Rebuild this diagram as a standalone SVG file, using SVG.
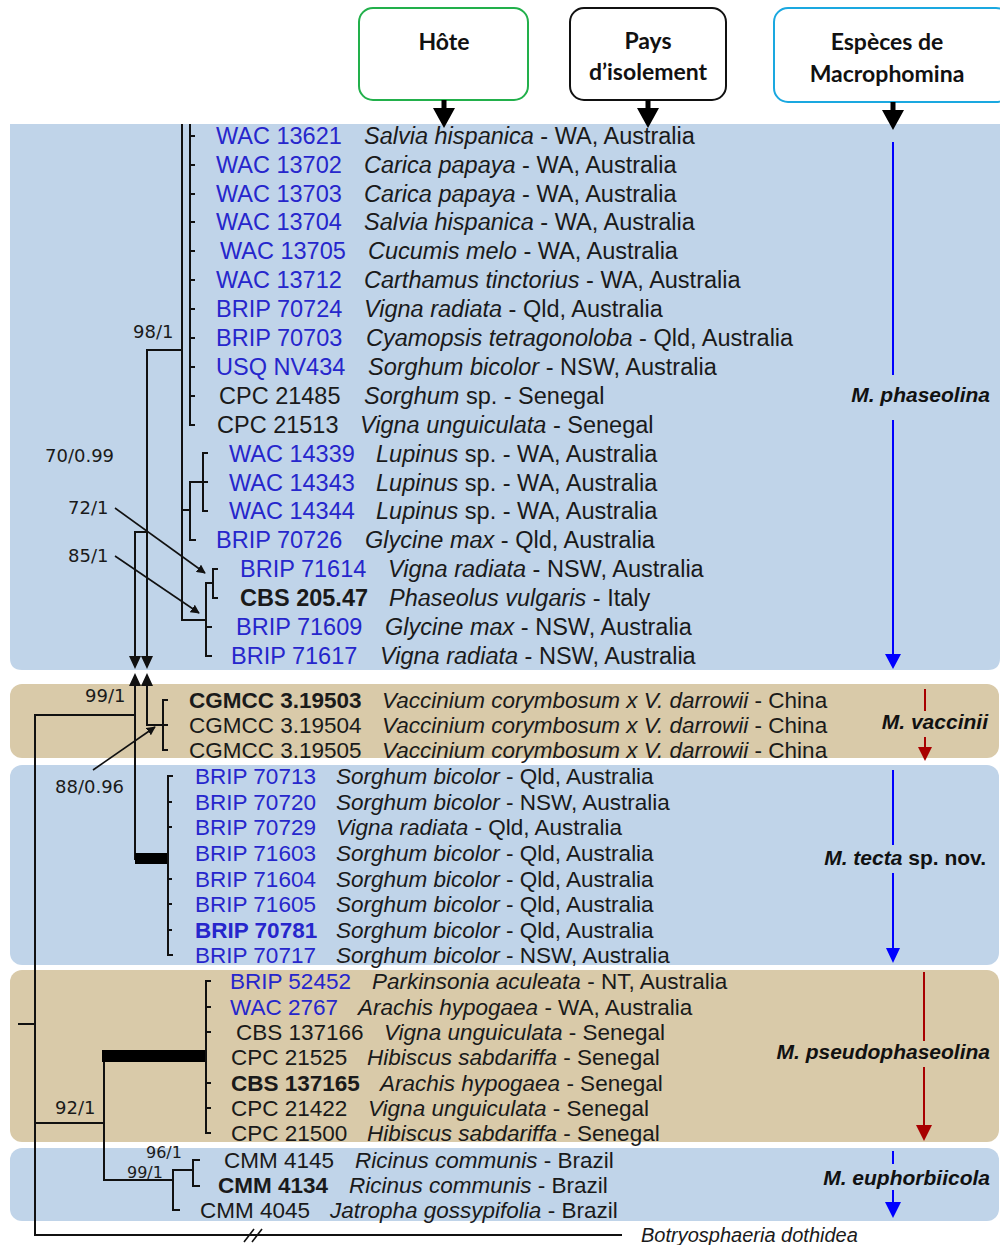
<svg xmlns="http://www.w3.org/2000/svg" width="1000" height="1245" viewBox="0 0 1000 1245">
<defs>
<style>
.bg{fill:#fff}
.pb{fill:#c0d4e9}
.pt{fill:#d9caa9}
.hb{fill:#fff;stroke-width:2}
.ht{font-family:Lato,"Open Sans",sans-serif;font-weight:bold;font-size:23px;fill:#111;text-anchor:middle}
.r1{font-family:"Liberation Sans",Arial,sans-serif;font-size:23.5px;fill:#1a1a1a}
.r2{font-family:"Liberation Sans",Arial,sans-serif;font-size:22.5px;fill:#1a1a1a}
.b{fill:#2626cc}
.k{fill:#1a1a1a}
.bd{font-weight:bold}
.i{font-style:italic}
.tr{fill:none;stroke:#111;stroke-width:2}
.sup{font-family:"DejaVu Sans",Verdana,sans-serif;font-size:18px;fill:#1a1a1a}
.sm{font-size:16px}
.sp{font-family:"Liberation Sans",Arial,sans-serif;font-size:21px;font-weight:bold;font-style:italic;fill:#111;text-anchor:end}
.bl{stroke:#0000ff;stroke-width:2;fill:none}
.rd{stroke:#a80000;stroke-width:2;fill:none}
.ar{stroke:#111;stroke-width:1.6;fill:none}
</style>
<marker id="ah" viewBox="0 0 10 10" refX="9" refY="5" markerWidth="9" markerHeight="9" markerUnits="userSpaceOnUse" orient="auto"><path d="M0,0 L10,5 L0,10 Z" fill="#111"/></marker>
</defs>
<rect class="bg" x="0" y="0" width="1000" height="1245"/>

<g id="panels">
<path class="pb" d="M10,124 H1000 V658 Q1000,670 988,670 H22 Q10,670 10,658 Z"/>
<rect class="pt" x="10" y="684" width="989" height="74" rx="12"/>
<rect class="pb" x="10" y="765" width="989" height="200" rx="12"/>
<rect class="pt" x="10" y="970" width="989" height="172" rx="12"/>
<rect class="pb" x="10" y="1148" width="989" height="73" rx="12"/>
</g>

<g id="header-hote">
<rect class="hb" x="359" y="8" width="169" height="92" rx="14" stroke="#22b04b"/>
<text class="ht" x="444" y="50">Hôte</text>
<path d="M441.5,100 H446.5 V108 H455 L444,128 L433,108 H441.5 Z" fill="#000"/>
</g>
<g id="header-pays">
<rect class="hb" x="570" y="8" width="156" height="92" rx="14" stroke="#111"/>
<text class="ht" x="648" y="49">Pays</text>
<text class="ht" x="648" y="80">d’isolement</text>
<path d="M645.5,100 H650.5 V108 H659 L648,128 L637,108 H645.5 Z" fill="#000"/>
</g>
<g id="header-especes">
<rect class="hb" x="774" y="8" width="236" height="94" rx="14" stroke="#1aa8e0"/>
<text class="ht" x="887" y="50">Espèces de</text>
<text class="ht" x="887" y="82">Macrophomina</text>
<path d="M890.5,102 H895.5 V110 H904 L893,130 L882,110 H890.5 Z" fill="#000"/>
</g>

<g id="connectors">
<path class="tr" d="M190,124 V425 H195"/>
<path class="tr" d="M190,136 H195 M190,165 H195 M190,194 H195 M190,222 H195 M190,251 H195 M190,280 H195 M190,309 H195 M190,338 H195 M190,367 H195 M190,396 H195"/>
<path class="tr" d="M182,124 V620 H206" stroke-width="2.6"/>
<path class="tr" d="M182,510 H190"/>
<path class="tr" d="M196,540 H190 V482 H203"/>
<path class="tr" d="M208,453 H203 V511 H208 M203,482 H208"/>
<path class="tr" d="M212,656 H206 V583 H213 M206,627 H212"/>
<path class="tr" d="M218,569 H213 V598 H218"/>
<path class="tr" d="M182,350 H147 V658"/>
<path class="tr" d="M147,532 H135 V658"/>
<path d="M141,656 L153,656 L147,669 Z M129,656 L141,656 L135,669 Z" fill="#111"/>
<path d="M141,686 L153,686 L147,673 Z M129,686 L141,686 L135,673 Z" fill="#111"/>
<path class="tr" d="M147,685 V725 H163"/>
<path class="tr" d="M168,700 H163 V750 H168 M163,725 H168"/>
<path class="tr" d="M135,685 V860"/>
<path class="tr" d="M135,715 H35 V1235 H622"/>
<path class="tr" d="M18,1024 H35"/>
<rect x="135" y="853" width="33" height="11" fill="#000"/>
<path class="tr" d="M173,776 H168 V955 H173 M168,802 H172 M168,827 H172 M168,879 H172 M168,904 H172 M168,930 H172"/>
<path class="tr" d="M35,1123 H104 V1180 H173"/>
<path class="tr" d="M104,1123 V1056"/>
<rect x="102" y="1050" width="104" height="12" fill="#000"/>
<path class="tr" d="M211,981 H206 V1133 H211 M206,1007 H211 M206,1032 H211 M206,1083 H211 M206,1108 H211"/>
<path class="tr" d="M180,1210 H173 V1170 H193"/>
<path class="tr" d="M200,1160 H193 V1186 H200"/>
<path d="M244,1242 L254,1229 M252,1242 L262,1229" stroke="#111" stroke-width="1.6"/>
<path class="ar" d="M115,508 L205,573" marker-end="url(#ah)"/>
<path class="ar" d="M115,556 L199,613" marker-end="url(#ah)"/>
<path class="ar" d="M93,770 L155,727" marker-end="url(#ah)"/>
</g>

<g id="support-labels">
<text class="sup" x="133" y="338">98/1</text>
<text class="sup" x="45" y="462">70/0.99</text>
<text class="sup" x="68" y="514">72/1</text>
<text class="sup" x="68" y="562">85/1</text>
<text class="sup" x="85" y="702">99/1</text>
<text class="sup" x="55" y="793">88/0.96</text>
<text class="sup" x="55" y="1114">92/1</text>
<text class="sup sm" x="146" y="1158">96/1</text>
<text class="sup sm" x="127" y="1178">99/1</text>
</g>

<g id="phaseolina-leaves">
<g id="l1"><text class="r1 b" x="216" y="144">WAC 13621</text><text class="r1" x="364" y="144"><tspan class="i">Salvia hispanica</tspan> - WA, Australia</text></g>
<g id="l2"><text class="r1 b" x="216" y="173">WAC 13702</text><text class="r1" x="364" y="173"><tspan class="i">Carica papaya</tspan> - WA, Australia</text></g>
<g id="l3"><text class="r1 b" x="216" y="202">WAC 13703</text><text class="r1" x="364" y="202"><tspan class="i">Carica papaya</tspan> - WA, Australia</text></g>
<g id="l4"><text class="r1 b" x="216" y="230">WAC 13704</text><text class="r1" x="364" y="230"><tspan class="i">Salvia hispanica</tspan> - WA, Australia</text></g>
<g id="l5"><text class="r1 b" x="220" y="259">WAC 13705</text><text class="r1" x="368" y="259"><tspan class="i">Cucumis melo</tspan> - WA, Australia</text></g>
<g id="l6"><text class="r1 b" x="216" y="288">WAC 13712</text><text class="r1" x="364" y="288"><tspan class="i">Carthamus tinctorius</tspan> - WA, Australia</text></g>
<g id="l7"><text class="r1 b" x="216" y="317">BRIP 70724</text><text class="r1" x="364" y="317"><tspan class="i">Vigna radiata</tspan> - Qld, Australia</text></g>
<g id="l8"><text class="r1 b" x="216" y="346">BRIP 70703</text><text class="r1" x="366" y="346"><tspan class="i">Cyamopsis tetragonoloba</tspan> - Qld, Australia</text></g>
<g id="l9"><text class="r1 b" x="216" y="375">USQ NV434</text><text class="r1" x="368" y="375"><tspan class="i">Sorghum bicolor</tspan> - NSW, Australia</text></g>
<g id="l10"><text class="r1" x="219" y="404">CPC 21485</text><text class="r1" x="364" y="404"><tspan class="i">Sorghum</tspan> sp. - Senegal</text></g>
<g id="l11"><text class="r1" x="217" y="433">CPC 21513</text><text class="r1" x="360" y="433"><tspan class="i">Vigna unguiculata</tspan> - Senegal</text></g>
<g id="l12"><text class="r1 b" x="229" y="462">WAC 14339</text><text class="r1" x="376" y="462"><tspan class="i">Lupinus</tspan> sp. - WA, Australia</text></g>
<g id="l13"><text class="r1 b" x="229" y="491">WAC 14343</text><text class="r1" x="376" y="491"><tspan class="i">Lupinus</tspan> sp. - WA, Australia</text></g>
<g id="l14"><text class="r1 b" x="229" y="519">WAC 14344</text><text class="r1" x="376" y="519"><tspan class="i">Lupinus</tspan> sp. - WA, Australia</text></g>
<g id="l15"><text class="r1 b" x="216" y="548">BRIP 70726</text><text class="r1" x="365" y="548"><tspan class="i">Glycine max</tspan> - Qld, Australia</text></g>
<g id="l16"><text class="r1 b" x="240" y="577">BRIP 71614</text><text class="r1" x="388" y="577"><tspan class="i">Vigna radiata</tspan> - NSW, Australia</text></g>
<g id="l17"><text class="r1 bd" x="240" y="606">CBS 205.47</text><text class="r1" x="389" y="606"><tspan class="i">Phaseolus vulgaris</tspan> - Italy</text></g>
<g id="l18"><text class="r1 b" x="236" y="635">BRIP 71609</text><text class="r1" x="385" y="635"><tspan class="i">Glycine max</tspan> - NSW, Australia</text></g>
<g id="l19"><text class="r1 b" x="231" y="664">BRIP 71617</text><text class="r1" x="380" y="664"><tspan class="i">Vigna radiata</tspan> - NSW, Australia</text></g>
</g>

<g id="vaccinii-leaves">
<g id="v1"><text class="r2 bd" x="189" y="708">CGMCC 3.19503</text><text class="r2" x="382" y="708"><tspan class="i">Vaccinium corymbosum x V. darrowii</tspan> - China</text></g>
<g id="v2"><text class="r2" x="189" y="733">CGMCC 3.19504</text><text class="r2" x="382" y="733"><tspan class="i">Vaccinium corymbosum x V. darrowii</tspan> - China</text></g>
<g id="v3"><text class="r2" x="189" y="758">CGMCC 3.19505</text><text class="r2" x="382" y="758"><tspan class="i">Vaccinium corymbosum x V. darrowii</tspan> - China</text></g>
</g>

<g id="tecta-leaves">
<g id="t1"><text class="r2 b" x="195" y="784">BRIP 70713</text><text class="r2" x="336" y="784"><tspan class="i">Sorghum bicolor</tspan> - Qld, Australia</text></g>
<g id="t2"><text class="r2 b" x="195" y="810">BRIP 70720</text><text class="r2" x="336" y="810"><tspan class="i">Sorghum bicolor</tspan> - NSW, Australia</text></g>
<g id="t3"><text class="r2 b" x="195" y="835">BRIP 70729</text><text class="r2" x="336" y="835"><tspan class="i">Vigna radiata</tspan> - Qld, Australia</text></g>
<g id="t4"><text class="r2 b" x="195" y="861">BRIP 71603</text><text class="r2" x="336" y="861"><tspan class="i">Sorghum bicolor</tspan> - Qld, Australia</text></g>
<g id="t5"><text class="r2 b" x="195" y="887">BRIP 71604</text><text class="r2" x="336" y="887"><tspan class="i">Sorghum bicolor</tspan> - Qld, Australia</text></g>
<g id="t6"><text class="r2 b" x="195" y="912">BRIP 71605</text><text class="r2" x="336" y="912"><tspan class="i">Sorghum bicolor</tspan> - Qld, Australia</text></g>
<g id="t7"><text class="r2 b bd" x="195" y="938">BRIP 70781</text><text class="r2" x="336" y="938"><tspan class="i">Sorghum bicolor</tspan> - Qld, Australia</text></g>
<g id="t8"><text class="r2 b" x="195" y="963">BRIP 70717</text><text class="r2" x="336" y="963"><tspan class="i">Sorghum bicolor</tspan> - NSW, Australia</text></g>
</g>

<g id="pseudophaseolina-leaves">
<g id="s1"><text class="r2 b" x="230" y="989">BRIP 52452</text><text class="r2" x="372" y="989"><tspan class="i">Parkinsonia aculeata</tspan> - NT, Australia</text></g>
<g id="s2"><text class="r2 b" x="230" y="1015">WAC 2767</text><text class="r2" x="358" y="1015"><tspan class="i">Arachis hypogaea</tspan> - WA, Australia</text></g>
<g id="s3"><text class="r2" x="236" y="1040">CBS 137166</text><text class="r2" x="384" y="1040"><tspan class="i">Vigna unguiculata</tspan> - Senegal</text></g>
<g id="s4"><text class="r2" x="231" y="1065">CPC 21525</text><text class="r2" x="367" y="1065"><tspan class="i">Hibiscus sabdariffa</tspan> - Senegal</text></g>
<g id="s5"><text class="r2 bd" x="231" y="1091">CBS 137165</text><text class="r2" x="380" y="1091"><tspan class="i">Arachis hypogaea</tspan> - Senegal</text></g>
<g id="s6"><text class="r2" x="231" y="1116">CPC 21422</text><text class="r2" x="368" y="1116"><tspan class="i">Vigna unguiculata</tspan> - Senegal</text></g>
<g id="s7"><text class="r2" x="231" y="1141">CPC 21500</text><text class="r2" x="367" y="1141"><tspan class="i">Hibiscus sabdariffa</tspan> - Senegal</text></g>
</g>

<g id="euphorbiicola-leaves">
<g id="e1"><text class="r2" x="224" y="1168">CMM 4145</text><text class="r2" x="355" y="1168"><tspan class="i">Ricinus communis</tspan> - Brazil</text></g>
<g id="e2"><text class="r2 bd" x="218" y="1193">CMM 4134</text><text class="r2" x="349" y="1193"><tspan class="i">Ricinus communis</tspan> - Brazil</text></g>
<g id="e3"><text class="r2" x="200" y="1218">CMM 4045</text><text class="r2" x="330" y="1218"><tspan class="i">Jatropha gossypifolia</tspan> - Brazil</text></g>
</g>

<g id="outgroup">
<text class="r2 i" x="641" y="1242" style="font-size:20px">Botryosphaeria dothidea</text>
</g>

<g id="species">
<g id="sp-phaseolina">
<path class="bl" d="M893,142 V375 M893,420 V656"/>
<path d="M885,654 L901,654 L893,669 Z" fill="#0000ff"/>
<text class="sp" x="990" y="402">M. phaseolina</text>
</g>
<g id="sp-vaccinii">
<path class="rd" d="M925,689 V711 M925,737 V749"/>
<path d="M918,747 L932,747 L925,761 Z" fill="#a80000"/>
<text class="sp" x="988" y="729">M. vaccinii</text>
</g>
<g id="sp-tecta">
<path class="bl" d="M893,770 V845 M893,873 V950"/>
<path d="M886,948 L900,948 L893,963 Z" fill="#0000ff"/>
<text class="sp" x="986" y="865"><tspan>M. tecta</tspan><tspan font-style="normal"> sp. nov.</tspan></text>
</g>
<g id="sp-pseudophaseolina">
<path class="rd" d="M924,972 V1041 M924,1067 V1127"/>
<path d="M916,1125 L932,1125 L924,1141 Z" fill="#a80000"/>
<text class="sp" x="990" y="1059">M. pseudophaseolina</text>
</g>
<g id="sp-euphorbiicola">
<path class="bl" d="M893,1151 V1164 M893,1190 V1204"/>
<path d="M885,1202 L901,1202 L893,1218 Z" fill="#0000ff"/>
<text class="sp" x="990" y="1185">M. euphorbiicola</text>
</g>
</g>
</svg>
